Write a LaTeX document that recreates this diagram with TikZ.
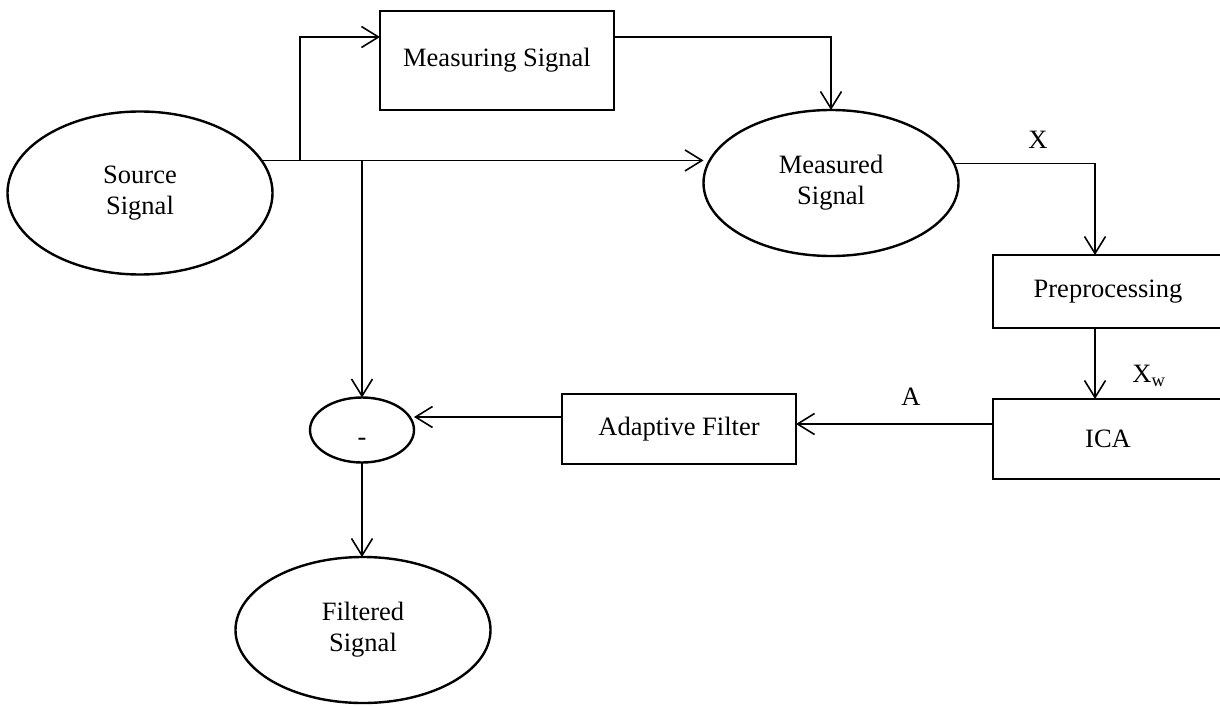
\documentclass[tikz,border=0pt]{standalone}
\usepackage{fontspec}
\setmainfont{Liberation Serif}
\usetikzlibrary{shapes.geometric,arrows.meta}
\begin{document}
\begin{tikzpicture}[x=1pt,y=-1pt,
  every node/.style={font=\fontsize{26.5}{31}\selectfont,inner sep=0pt,outer sep=0pt},
  sig/.style={ellipse,draw,line width=2.4pt,align=center},
  blk/.style={rectangle,draw,line width=2.4pt,align=center},
  flow/.style={line width=1.6pt,-{Straight Barb[length=17pt,width=21pt]}}]
\useasboundingbox (0,0) rectangle (1220,706);
\node[sig,minimum width=265,minimum height=163] (src) at (140,193) {Source\\Signal};
\node[blk,minimum width=234,minimum height=99] (msr) at (497,60.5) {Measuring Signal};
\node[sig,minimum width=255,minimum height=146] (mea) at (831,183) {Measured\\Signal};
\node[blk,minimum width=230,minimum height=73] (pre) at (1108,291.5) {Preprocessing};
\node[blk,minimum width=230,minimum height=80] (ica) at (1108,439) {ICA};
\node[blk,minimum width=234,minimum height=70] (adf) at (679,429) {Adaptive Filter};
\node[sig,minimum width=104,minimum height=65,text height=30pt,text depth=0pt] (sub) at (362,430) {-};
\node[sig,minimum width=255,minimum height=146] (flt) at (363,630) {Filtered\\Signal};
\node (lx) at (1038,140) {X};
\node (lxw) at (1149,376) {X\textsubscript{w}};
\node (la) at (911,397) {A};
\coordinate (up) at (300,161);
\coordinate (dn) at (362,161);

\draw[flow] (src.15) -- (src.15 -| mea.west);
\draw[flow] (up) |- ([yshift=-26pt]msr.north west);
\draw[flow] (dn) -- (sub);
\draw[flow] ([yshift=-26pt]msr.north east) -| (mea.north);
\draw[flow] (mea.9) -| ([xshift=-13pt]pre.north);
\draw[flow] ([xshift=-13pt]pre.south) -- ([xshift=-13pt]ica.north);
\draw[flow] ([yshift=15pt]ica.west) -- ([yshift=15pt]ica.west -| adf.east);
\draw[flow] ([yshift=12pt]adf.west) -- ([yshift=12pt]adf.west -| sub.east);
\draw[flow] (sub) -- (sub |- flt.north);
\end{tikzpicture}
\end{document}
